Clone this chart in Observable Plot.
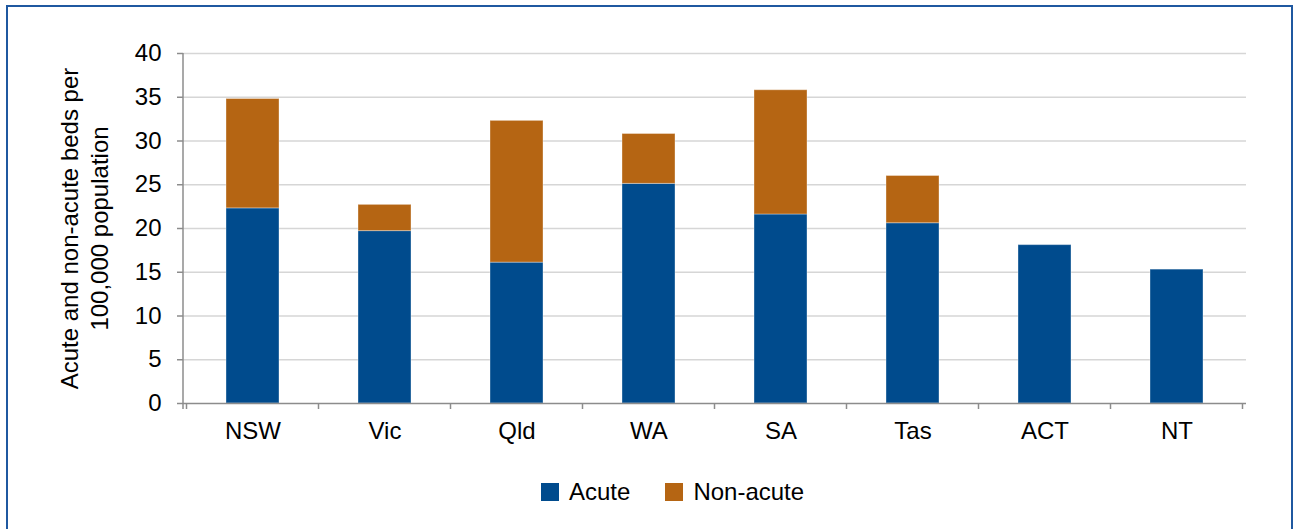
<!DOCTYPE html>
<html>
<head>
<meta charset="utf-8">
<script src="https://cdn.jsdelivr.net/npm/d3@7"></script>
<script src="https://cdn.jsdelivr.net/npm/@observablehq/plot@0.6"></script>
<style>
  html, body { margin: 0; padding: 0; background: #fff; }
  body { width: 1300px; height: 529px; overflow: hidden; position: relative; font-family: "Liberation Sans", Arial, sans-serif; }
  #frame { position: absolute; left: 6px; top: 5px; width: 1283px; height: 560px; border: 2.5px solid #1f58a0; box-sizing: content-box; }
  #chart { position: absolute; left: 0; top: 0; }
  #legend { position: absolute; top: 478px; left: 541px; display: flex; align-items: center; font-size: 24px; color: #000; }
  .item { display: flex; align-items: center; margin-right: 35px; }
  .sw { width: 18px; height: 18px; margin-right: 10px; }
</style>
</head>
<body>
<div id="frame"></div>
<div id="chart"></div>
<div id="legend"></div>
<script>
const categories = ["NSW", "Vic", "Qld", "WA", "SA", "Tas", "ACT", "NT"];
const acute = [22.3, 19.7, 16.1, 25.1, 21.6, 20.6, 18.1, 15.3];
const nonAcute = [12.5, 3.0, 16.2, 5.7, 14.2, 5.4, 0, 0];
const seriesNames = ["Acute", "Non-acute"];
const seriesColors = ["#004b8d", "#b56513"];
const yTicks = [0, 5, 10, 15, 20, 25, 30, 35, 40];
const yLabel = "Acute and non-acute beds per\n100,000 population";

const rows = [];
categories.forEach((c, i) => {
  rows.push({state: c, series: seriesNames[0], value: acute[i]});
  rows.push({state: c, series: seriesNames[1], value: nonAcute[i]});
});

const axisColor = "#8c8c8c";

function axisLines(index, scales, values, dims) {
  const x = scales.x;
  const step = x.step ? x.step() : scales.scales.x.step;
  const bw = x.bandwidth ? x.bandwidth() : scales.scales.x.bandwidth;
  const off = (step - bw) / 2;
  const y0 = dims.height - dims.marginBottom;
  const g = d3.create("svg:g").attr("stroke", axisColor).attr("stroke-width", 1.5);
  g.append("line")
    .attr("x1", dims.marginLeft).attr("x2", dims.marginLeft)
    .attr("y1", dims.marginTop).attr("y2", y0 + 6);
  const bounds = categories.map(c => x(c) - off);
  bounds.push(x(categories[categories.length - 1]) + bw + off);
  bounds.forEach(b => {
    g.append("line").attr("x1", b).attr("x2", b).attr("y1", y0).attr("y2", y0 + 6);
  });
  return g.node();
}

const chart = Plot.plot({
  width: 1300,
  height: 460,
  marginTop: 53,
  marginBottom: 57,
  marginLeft: 183,
  marginRight: 54,
  style: { fontFamily: "Liberation Sans, Arial, sans-serif", fontSize: "24px", background: "transparent", color: "#000" },
  x: { domain: categories, paddingInner: 0.6, paddingOuter: 0.3, label: null },
  y: { domain: [0, 40], label: null },
  color: { domain: seriesNames, range: seriesColors },
  marks: [
    Plot.gridY(yTicks.slice(1), { stroke: "#d6d6d6", strokeOpacity: 1, strokeWidth: 1.5 }),
    Plot.barY(rows, Plot.stackY({ x: "state", y: "value", fill: "series", order: seriesNames, stroke: "#ffffff", strokeOpacity: 0.35, strokeWidth: 1 })),
    Plot.ruleY([0], { stroke: axisColor, strokeWidth: 1.5 }),
    axisLines,
    Plot.axisY(yTicks, { tickSize: 6, tickPadding: 9, stroke: axisColor, strokeWidth: 1.5, label: null, text: null }),
    Plot.text(yTicks, { y: d => d, frameAnchor: "left", dx: -22, textAnchor: "end", fontSize: 24, fill: "#000", text: d => String(d) }),
    Plot.axisX({ tickSize: 0, tickPadding: 18, fontSize: 24, fill: "#000", label: null }),
    Plot.text([yLabel], { frameAnchor: "left", rotate: -90, dx: -100, fontSize: 24, lineHeight: 1.25, lineAnchor: "middle", textAnchor: "middle", fill: "#000" })
  ]
});
document.getElementById("chart").appendChild(chart);

const legend = document.getElementById("legend");
seriesNames.forEach((s, i) => {
  const item = document.createElement("div");
  item.className = "item";
  const sw = document.createElement("div");
  sw.className = "sw";
  sw.style.background = seriesColors[i];
  const t = document.createElement("span");
  t.textContent = s;
  item.appendChild(sw);
  item.appendChild(t);
  legend.appendChild(item);
});
</script>
</body>
</html>
